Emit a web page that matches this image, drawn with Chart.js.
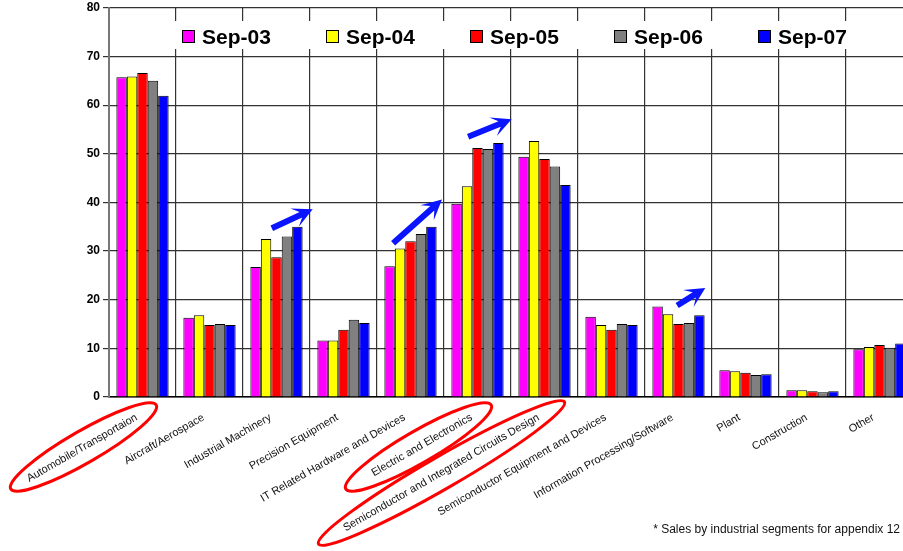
<!DOCTYPE html>
<html>
<head>
<meta charset="utf-8">
<script src="https://cdn.jsdelivr.net/npm/chart.js@4.4.1/dist/chart.umd.min.js"></script>
<style>
  html, body { margin: 0; padding: 0; background: #fff; overflow: hidden; width: 903px; height: 551px; }
  #wrap { position: absolute; left: 0; top: 0; width: 914px; height: 551px; }
  #note { position: absolute; right: 3px; top: 522px; font: 12px "Liberation Sans", Arial, sans-serif; color: #111; white-space: nowrap; }
</style>
</head>
<body>
<div id="wrap"><canvas id="c" width="914" height="551"></canvas></div>
<div id="note">* Sales by industrial segments for appendix 12</div>
<script>
// Sales by industrial segment, five fiscal snapshots
const categories = [
  'Automobile/Transportaion',
  'Aircraft/Aerospace',
  'Industrial Machinery',
  'Precision Equipment',
  'IT Related Hardware and Devices',
  'Electric and Electronics',
  'Semiconductor and Integrated Circuits Design',
  'Semiconductor Equipment and Devices',
  'Information Processing/Software',
  'Plant',
  'Construction',
  'Other'
];
const seriesNames = ['Sep-03', 'Sep-04', 'Sep-05', 'Sep-06', 'Sep-07'];
const sep03 = [65.7, 16.3, 26.7, 11.6, 26.9, 39.7, 49.4, 16.5, 18.6, 5.5, 1.4, 9.8];
const sep04 = [65.9, 16.8, 32.5, 11.6, 30.5, 43.3, 52.6, 14.8, 17.0, 5.3, 1.4, 10.3];
const sep05 = [66.6, 14.8, 28.7, 13.8, 32.0, 51.2, 48.9, 13.8, 15.0, 5.0, 1.2, 10.7];
const sep06 = [65.0, 15.0, 33.0, 15.9, 33.5, 51.0, 47.4, 15.0, 15.2, 4.5, 1.0, 10.1];
const sep07 = [61.9, 14.8, 35.0, 15.2, 35.0, 52.2, 43.6, 14.8, 16.8, 4.7, 1.2, 11.0];
const seriesColors = ['#ff00ff', '#ffff00', '#ff0000', '#808080', '#0000ff'];
const yTicks = [0, 10, 20, 30, 40, 50, 60, 70, 80];

// Growth arrows: [category, offset within category (fraction of width), value] for tail and tip
const growthArrows = [
  { from: [2, -0.07, 34.7], to: [2, 0.54, 38.6] },
  { from: [4, -0.26, 31.6], to: [4, 0.47, 40.6] },
  { from: [5, -0.14, 53.5], to: [5, 0.51, 57.1] },
  { from: [8, -0.02, 18.8], to: [8, 0.40, 22.4] }
];
// Highlight rings around selected category labels: category, offset from tick (px), radii
const labelRings = [
  { cat: 0, dx: -59, dy: 50, rx: 84, ry: 16 },
  { cat: 5, dx: -59, dy: 50, rx: 84, ry: 16 },
  { cat: 6, dx: -103, dy: 76, rx: 142, ry: 16 }
];

const allSeries = [sep03, sep04, sep05, sep06, sep07];

const legendPlugin = {
  id: 'boxLegend',
  afterDatasetsDraw(chart) {
    const ctx = chart.ctx;
    ctx.save();
    ctx.fillStyle = '#fff';
    ctx.fillRect(172, 21, 700, 28);
    ctx.font = 'bold 21px "Liberation Sans", Arial, sans-serif';
    ctx.textBaseline = 'middle';
    chart.data.datasets.forEach((ds, i) => {
      const x = 182 + i * 144;
      const y = 37;
      ctx.fillStyle = ds.backgroundColor;
      ctx.fillRect(x, y - 7, 13, 13);
      ctx.strokeStyle = '#000';
      ctx.lineWidth = 1;
      ctx.strokeRect(x + 0.5, y - 6.5, 12, 12);
      ctx.fillStyle = '#000';
      ctx.fillText(ds.label, x + 20, y + 1);
    });
    ctx.restore();
  }
};

const annotationPlugin = {
  id: 'marks',
  afterDraw(chart) {
    const ctx = chart.ctx;
    const xs = chart.scales.x, ys = chart.scales.y;
    const cw = xs.getPixelForValue(1) - xs.getPixelForValue(0);
    const pt = (p) => [xs.getPixelForValue(p[0]) + p[1] * cw, ys.getPixelForValue(p[2])];
    ctx.save();
    // arrows
    ctx.fillStyle = '#0a14ff';
    growthArrows.forEach(a => {
      const [x1, y1] = pt(a.from);
      const [x2, y2] = pt(a.to);
      const ang = Math.atan2(y2 - y1, x2 - x1);
      const len = Math.hypot(x2 - x1, y2 - y1);
      ctx.save();
      ctx.translate(x1, y1);
      ctx.rotate(ang);
      const headL = 20, headW = 10, notch = 13;
      ctx.beginPath();
      ctx.moveTo(0, -3);
      ctx.lineTo(len - notch, -3);
      ctx.lineTo(len - headL, -headW);
      ctx.lineTo(len, 0);
      ctx.lineTo(len - headL, headW);
      ctx.lineTo(len - notch, 3);
      ctx.lineTo(0, 3);
      ctx.closePath();
      ctx.fill();
      ctx.restore();
    });
    // label rings
    ctx.strokeStyle = '#ff0000';
    ctx.lineWidth = 3;
    labelRings.forEach(r => {
      const cx = xs.getPixelForValue(r.cat) + r.dx;
      const cy = xs.top + r.dy;
      ctx.beginPath();
      ctx.ellipse(cx, cy, r.rx, r.ry, -Math.PI / 6, 0, Math.PI * 2);
      ctx.stroke();
    });
    ctx.restore();
  }
};

new Chart(document.getElementById('c'), {
  type: 'bar',
  data: {
    labels: categories,
    datasets: allSeries.map((vals, i) => ({
      label: seriesNames[i],
      data: vals,
      backgroundColor: seriesColors[i],
      borderColor: '#000',
      borderWidth: 1,
      categoryPercentage: 0.78,
      barPercentage: 1.0
    }))
  },
  options: {
    responsive: false,
    animation: false,
    devicePixelRatio: 1,
    layout: { padding: { top: 5, right: 1, left: 0, bottom: 0 } },
    plugins: { legend: { display: false }, tooltip: { enabled: false } },
    scales: {
      x: {
        grid: { offset: true, color: '#333', lineWidth: 1.2, drawTicks: false },
        border: { color: '#000', width: 1.5 },
        ticks: {
          autoSkip: false,
          maxRotation: 30,
          minRotation: 30,
          padding: 14,
          labelOffset: -6,
          color: '#111',
          font: { family: '"Liberation Sans", Arial, sans-serif', size: 11 }
        },
        afterFit(s) { s.height = 154; }
      },
      y: {
        min: 0,
        max: 80,
        afterBuildTicks(s) { s.ticks = yTicks.map(v => ({ value: v })); },
        grid: { color: '#333', lineWidth: 1.2, tickLength: 6 },
        border: { color: '#777', width: 2 },
        ticks: {
          padding: 3,
          color: '#000',
          font: { family: '"Liberation Sans", Arial, sans-serif', size: 12, weight: 'bold', lineHeight: 0.8 }
        },
        afterFit(s) { s.width = 109; }
      }
    }
  },
  plugins: [legendPlugin, annotationPlugin]
});
</script>
</body>
</html>
